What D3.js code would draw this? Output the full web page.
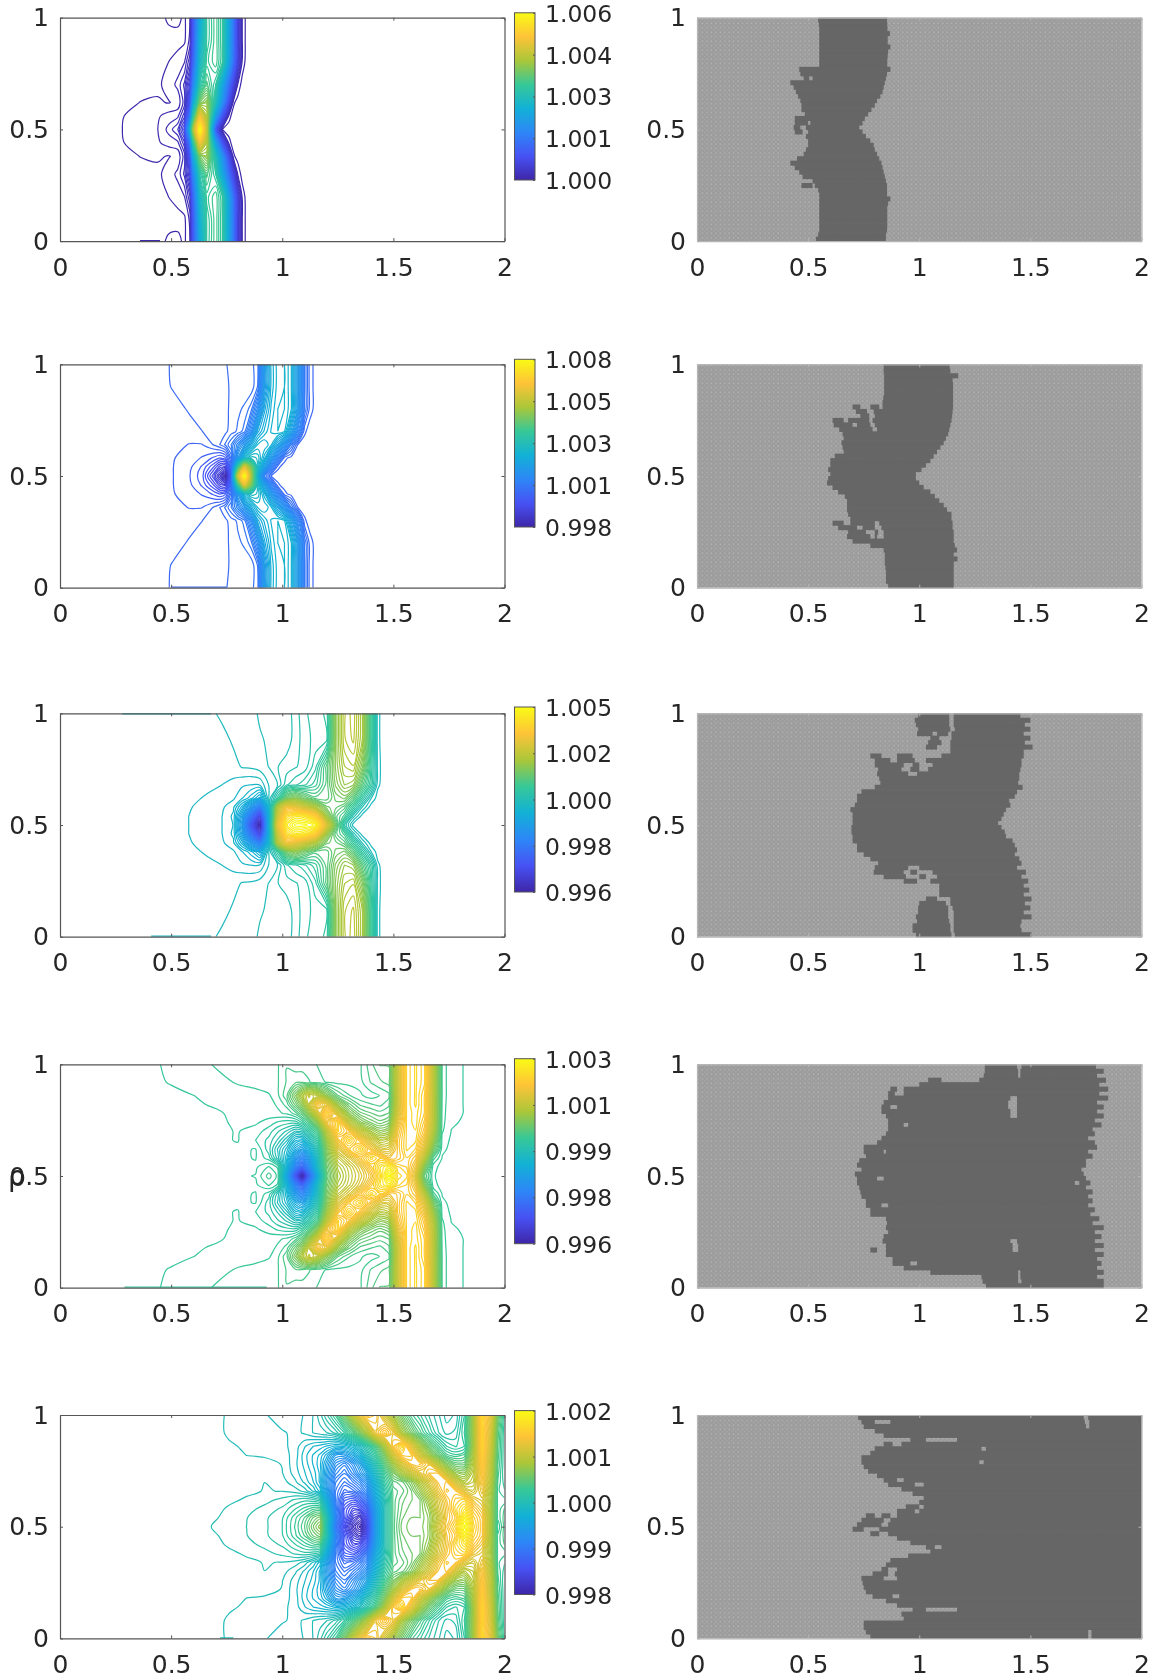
<!DOCTYPE html>
<html>
<head>
<meta charset="utf-8">
<script src="https://d3js.org/d3.v7.min.js"></script>
<style>
body { margin: 0; background: #fff; }
svg { display: block; filter: blur(0.45px); }
text { font-family: "DejaVu Sans", sans-serif; fill: #262626; }
</style>
</head>
<body>
<script>
// parula colormap used by the contours and colorbars
var parula = ["#3e26a8", "#4752f4", "#2d87f7", "#12b1d6", "#37c897", "#abc739", "#fec338", "#f9fb15"];

var xTicks = [0, 0.5, 1, 1.5, 2];
var yTicks = [0, 0.5, 1];

// colorbar labels, top to bottom
var cbLabels1 = ["1.006", "1.004", "1.003", "1.001", "1.000"];
var cbLabels2 = ["1.008", "1.005", "1.003", "1.001", "0.998"];
var cbLabels3 = ["1.005", "1.002", "1.000", "0.998", "0.996"];
var cbLabels4 = ["1.003", "1.001", "0.999", "0.998", "0.996"];
var cbLabels5 = ["1.002", "1.001", "1.000", "0.999", "0.998"];

// colour range of each panel, in thousandths above 1
var range1 = [0, 6];
var range2 = [-2, 8];
var range3 = [-4.5, 5];
var range4 = [-3.8, 3];
var range5 = [-2, 2];

// density field (thousandths above 1), rows from y=.5 up to y=1,
// the lower half mirrors it
var p1X = [0, .28, .36, .44, .49, .53, .56, .585, .60, .63, .66, .70, .73, .76, .78, .80, .82, .84, 2];
var p1Y = [.5, .56, .62, .7, .8, .9, 1];
var p1Z = [
  [0, .033, .07, .1, .19, .3, .6, 2.6, 4.2, 6.0, 4.4, 1.0, .03, 0, 0, 0, 0, 0, 0],
  [0, .03, .06, .09, .13, .15, .35, 1.5, 3.2, 5.0, 4.3, 2.2, .9, .06, 0, 0, 0, 0, 0],
  [0, 0, .035, .04, .03, .05, .2, .9, 2.4, 3.9, 4.1, 3.0, 1.9, .7, .05, 0, 0, 0, 0],
  [0, 0, 0, .02, .06, .12, .25, .6, 1.7, 3.2, 3.6, 3.3, 2.4, 1.3, .6, .09, 0, 0, 0],
  [0, 0, 0, 0, .035, .06, .1, .3, 1.2, 2.8, 3.4, 3.55, 3.3, 2.2, 1.3, .5, .08, 0, 0],
  [0, 0, 0, 0, 0, .01, .02, .12, 1.0, 2.6, 3.3, 3.55, 3.3, 2.3, 1.4, .5, .1, 0, 0],
  [0, 0, 0, 0, .05, .05, .02, .1, 1.0, 2.4, 3.3, 3.55, 3.3, 2.3, 1.4, .5, .1, 0, 0]
];

var p2X = [0, .45, .51, .58, .64, .69, .72, .745, .77, .80, .83, .86, .89, .92, .95, .98, 1.01, 1.04, 1.07, 1.10, 1.125, 1.14, 1.16, 2];
var p2Y = [.5, .54, .58, .64, .7, .8, .9, 1];
var p2Z = [
  [0, 0, -.055, -.15, -.35, -.9, -1.4, -2, -.2, 5.5, 8, 5, 2.2, .5, .04, 0, 0, 0, 0, 0, 0, 0, 0, 0],
  [0, 0, -.055, -.13, -.3, -.6, -.9, -1, 0, 3.5, 6, 4.5, 2.6, 1.6, .7, .08, 0, 0, 0, 0, 0, 0, 0, 0],
  [0, 0, -.05, -.1, -.18, -.3, -.4, -.3, .2, 1.4, 2.4, 2.8, 2.7, 2.2, 1.4, .7, .1, 0, 0, 0, 0, 0, 0, 0],
  [0, 0, -.02, -.06, -.06, .06, .17, .3, .5, .9, 1.4, 2, 2.4, 2.5, 2.3, 1.8, 1.2, .5, .05, 0, 0, 0, 0, 0],
  [0, 0, 0, 0, .055, .08, .1, .14, .22, .3, .45, 1.0, 1.9, 2.2, 2.4, 2.5, 2.4, 1.7, .9, .08, 0, 0, 0, 0],
  [0, 0, 0, .07, .09, .1, .1, .13, .2, .25, .3, .45, 1.0, 1.9, 2.3, 2.5, 2.5, 2.3, 1.5, .5, .1, .05, 0, 0],
  [0, 0, .07, .09, .09, .1, .1, .12, .2, .2, .2, .2, .4, 1.5, 2.2, 2.45, 2.5, 2.3, 1.5, .5, .1, .05, 0, 0],
  [0, 0, .08, .09, .09, .1, .1, .15, .22, .24, .24, .24, .35, 1.5, 2.2, 2.45, 2.5, 2.3, 1.5, .5, .1, .05, 0, 0]
];

var p3X = [0, .5, .58, .66, .73, .78, .82, .86, .9, .94, .98, 1.02, 1.06, 1.1, 1.15, 1.2, 1.24, 1.28, 1.32, 1.36, 1.4, 1.43, 1.46, 2];
var p3Y = [.5, .54, .58, .62, .68, .76, .88, 1];
var p3Z = [
  [0, 0, -.014, -.06, -.12, -.23, -1.2, -3, -4.5, -.5, 3.2, 4.6, 5, 5, 4.8, 3, 1.6, .5, .03, 0, 0, 0, 0, 0],
  [0, 0, -.014, -.05, -.12, -.25, -1.0, -2.3, -3.5, -.5, 2.8, 4.2, 4.5, 4.4, 3.8, 2.1, 1.3, 1.0, .35, .04, 0, 0, 0, 0],
  [0, 0, -.01, -.03, -.1, -.2, -.6, -1.3, -2.0, -.3, 2.4, 3.4, 3.2, 2.8, 2.3, 1.6, 1.5, 1.3, .8, .3, .03, 0, 0, 0],
  [0, 0, 0, -.02, -.05, -.1, -.22, -.4, -.7, .1, .7, 1.6, 1.9, 1.6, 1.3, 1.3, 1.6, 1.7, 1.3, .7, .2, .03, 0, 0],
  [0, 0, 0, 0, -.014, -.05, -.1, -.12, -.1, .1, .2, .5, .6, .7, .9, 1.3, 1.8, 2.1, 2.0, 1.3, .7, .12, .02, 0],
  [0, 0, 0, 0, 0, .05, .1, .11, .15, .2, .3, .35, .4, .45, .7, 1.3, 1.9, 2.3, 2.4, 1.8, .8, .15, 0, 0],
  [0, 0, 0, 0, .05, .11, .12, .16, .18, .22, .23, .25, .35, .47, .55, .6, 1.9, 2.5, 2.65, 2.2, .9, .13, 0, 0],
  [0, 0, 0, .05, .12, .13, .14, .15, .22, .22, .24, .25, .35, .5, .55, .65, 1.9, 2.5, 2.7, 2.2, .9, .13, 0, 0]
];

var p4X = [0, .4, .5, .6, .7, .8, .88, .94, .98, 1.02, 1.06, 1.09, 1.12, 1.16, 1.2, 1.25, 1.3, 1.35, 1.4, 1.44, 1.48, 1.52, 1.56, 1.6, 1.64, 1.68, 1.72, 1.76, 2];
var p4Y = [.5, .54, .58, .62, .66, .7, .74, .78, .82, .86, .92, 1];
var p4Z = [
  [0, 0, 0, 0, 0, 0, .02, .2, .07, -1.2, -2.8, -3.8, -2.5, -1, .4, 1, 1.3, 1.55, 1.9, 2.4, 3.0, 2.4, 2.3, 1.6, .4, .02, 0, 0, 0],
  [0, 0, 0, 0, 0, 0, 0, .1, 0, -.9, -2, -2.5, -1.8, -.6, .5, 1.1, 1.35, 1.65, 2.1, 2.5, 2.7, 2.3, 2.2, 1.8, .7, .03, 0, 0, 0],
  [0, 0, 0, 0, 0, 0, .02, -.1, -.4, -.8, -1.5, -1.9, -1.4, -.5, .6, 1.3, 1.6, 2.0, 2.4, 2.2, 1.9, 2.0, 2.2, 2.0, 1.2, .2, .01, 0, 0],
  [0, 0, 0, 0, 0, 0, .02, -.18, -.45, -.7, -1.1, -1.3, -.95, -.3, .7, 1.6, 2.1, 2.4, 1.9, 1.6, 1.6, 2.0, 2.3, 2.2, 1.6, .6, .03, 0, 0],
  [0, 0, 0, 0, 0, .02, -.06, -.16, -.3, -.5, -.8, -.85, -.55, -.05, .9, 1.9, 2.4, 2.0, 1.5, 1.2, 1.3, 2.0, 2.3, 2.3, 1.8, .9, .05, .005, 0],
  [0, 0, 0, 0, 0, .02, -.02, -.1, -.2, -.3, -.45, -.4, -.15, .25, 1.2, 2.3, 2.0, 1.4, 1.0, .8, .9, 1.9, 2.3, 2.35, 2.0, 1.1, .1, .015, 0],
  [0, 0, 0, 0, .01, .02, .03, -.02, -.07, -.1, -.1, .02, .25, .8, 1.8, 2.3, 1.3, .8, .6, .5, .6, 1.7, 2.3, 2.4, 2.1, 1.2, .12, .018, 0],
  [0, 0, 0, 0, .01, .025, .04, .06, .08, .1, .2, .4, .8, 1.5, 2.3, 1.5, .8, .5, .4, .35, .4, 1.5, 2.3, 2.4, 2.2, 1.2, .13, .02, 0],
  [0, 0, 0, .01, .02, .03, .05, .07, .1, .2, .5, .8, 1.3, 2.0, 1.7, .9, .5, .3, .25, .22, .3, 1.4, 2.3, 2.45, 2.2, 1.2, .14, .02, 0],
  [0, 0, 0, .015, .03, .05, .06, .08, .15, .3, .7, 1.1, 1.4, 1.2, .8, .4, .25, .18, .13, .17, .22, 1.4, 2.3, 2.45, 2.2, 1.2, .15, .02, 0],
  [0, 0, .02, .04, .06, .1, .12, .15, .16, .25, .3, .3, .25, .2, .16, .14, .14, .14, .25, .3, .35, 1.4, 2.3, 2.45, 2.3, 1.2, .15, .02, 0],
  [0, 0, .03, .05, .1, .12, .14, .15, .16, .24, .2, .2, .2, .16, .14, .14, .14, .15, .3, .4, .4, 1.4, 2.3, 2.45, 2.3, 1.2, .15, .02, 0]
];

var p5X = [0, .68, .76, .84, .92, 1.0, 1.06, 1.1, 1.14, 1.17, 1.2, 1.24, 1.28, 1.32, 1.35, 1.38, 1.42, 1.46, 1.5, 1.54, 1.58, 1.62, 1.66, 1.7, 1.74, 1.78, 1.82, 1.86, 1.9, 1.94, 1.97, 2];
var p5Y = [.5, .54, .58, .62, .66, .7, .74, .78, .82, .86, .92, 1];
var p5Z = [
  [0, .022, .05, .067, .1, .155, .3, .42, .6, .72, 0, -1, -1.5, -1.85, -2, -1.6, -.6, 0, .4, .58, .62, .62, .7, 1.1, 1.4, 1.6, 2, 1.6, 1.4, .8, .25, .4],
  [0, .01, .04, .065, .1, .15, .28, .38, .52, .58, .05, -.9, -1.4, -1.7, -1.8, -1.5, -.6, 0, .4, .55, .6, .6, .7, 1.0, 1.35, 1.5, 1.9, 1.55, 1.4, .8, .3, .4],
  [0, 0, .03, .05, .08, .12, .2, .26, .32, .32, -.15, -.95, -1.4, -1.55, -1.5, -1.3, -.55, 0, .4, .52, .58, .6, .75, 1.1, 1.35, 1.6, 1.75, 1.45, 1.3, .8, .3, .38],
  [0, 0, .01, .03, .05, .08, .12, .14, .12, .08, -.35, -1.0, -1.3, -1.35, -1.25, -1.05, -.45, .03, .4, .5, .55, .6, .85, 1.15, 1.4, 1.55, 1.6, 1.3, 1.2, .8, .3, .3],
  [0, 0, 0, .01, .025, .02, 0, -.04, -.12, -.22, -.55, -1, -1.15, -1.1, -1, -.85, -.35, .1, .4, .45, .55, .75, 1.0, 1.3, 1.5, 1.45, 1.2, 1.1, 1.3, .85, .3, .25],
  [0, 0, 0, 0, .022, 0, -.06, -.12, -.2, -.3, -.6, -.95, -1.05, -.95, -.85, -.7, -.25, .2, .45, .5, .65, .9, 1.15, 1.4, 1.45, 1.1, .9, 1.0, 1.4, .9, .33, .22],
  [0, 0, 0, 0, .015, -.02, -.09, -.15, -.22, -.3, -.55, -.85, -.95, -.8, -.65, -.5, -.1, .3, .6, .85, 1.05, 1.25, 1.4, 1.4, 1.0, .75, .7, .95, 1.45, .95, .35, .2],
  [0, 0, 0, 0, 0, -.025, -.1, -.17, -.25, -.32, -.5, -.75, -.85, -.7, -.55, -.3, .05, .45, .8, 1.15, 1.4, 1.45, 1.3, .95, .65, .5, .5, .9, 1.5, .95, .38, .2],
  [0, 0, 0, -.023, -.03, -.04, -.09, -.18, -.25, -.3, -.4, -.6, -.6, -.45, -.3, -.05, .25, .6, 1.1, 1.5, 1.5, 1.1, .8, .55, .35, .3, .35, .85, 1.55, 1.0, .4, .2],
  [0, 0, -.015, -.03, -.03, -.05, -.09, -.15, -.2, -.22, -.25, -.3, -.28, -.2, -.08, .1, .4, .85, 1.4, 1.65, 1.25, .85, .55, .35, .2, .15, .2, .8, 1.6, 1.05, .42, .2],
  [0, 0, -.03, -.04, -.05, -.06, -.08, -.06, -.02, 0, .02, .08, .2, .4, .6, .85, 1.3, 1.5, 1.3, .85, .6, .4, .25, .12, .05, .08, .25, .8, 1.6, 1.1, .45, .2],
  [0, 0, -.03, -.04, -.06, -.1, -.1, -.06, -.02, .05, .15, .3, .6, 1.0, 1.3, 1.5, 1.4, 1.1, .8, .55, .35, .25, .15, .08, 0, .03, .2, .8, 1.65, 1.2, .55, .25]
];

// short flat traces that run along the domain edge: [x0, x1, y]
var edge1 = [[.36, .45, 0]];
var edge2 = [[.5, .75, 0]];
var edge3 = [[.41, .68, 0], [.28, .68, 1]];
var edge4 = [[.29, .93, 0]];
var edge5 = [[.72, .78, 0]];

// dark cells of the right hand plots: x intervals per row, rows from y=.99 down to y=.01 in steps of .02
var dark1 = [
  [.545, .855], [.548, .856], [.55, .857], [.55, .868], [.55, .858], [.55, .858], [.55, .87], [.55, .86], [.55, .858], [.55, .856],
  [.55, .856], [.46, .87], [.465, .855], [.48, .505, .52, .85], [.42, .845], [.435, .84], [.445, .835], [.455, .825], [.465, .81], [.47, .80],
  [.47, .785], [.485, .77], [.44, .755], [.44, .50, .51, .745], [.435, .465, .49, .73], [.44, .475, .50, .745], [.49, .76], [.50, .78], [.50, .795], [.49, .80],
  [.48, .81], [.45, .82], [.42, .83], [.44, .835], [.46, .84], [.475, .845], [.52, .85], [.47, .52, .53, .855], [.545, .855], [.55, .855],
  [.55, .87], [.55, .86], [.55, .856], [.55, .856], [.55, .856], [.55, .856], [.55, .856], [.55, .855], [.545, .85], [.535, .85]
];
var dark2 = [
  [.84, 1.137], [.84, 1.14], [.842, 1.175], [.842, 1.15], [.842, 1.152], [.842, 1.152], [.842, 1.152], [.838, 1.152], [.835, 1.152],
  [.70, .735, .78, .82, .835, 1.152], [.715, .765, .795, 1.15], [.735, .775, .80, 1.148], [.61, .66, .68, .775, .79, 1.145], [.615, .70, .72, .78, .80, 1.14], [.64, .79, .81, 1.135],
  [.655, 1.13], [.66, 1.12], [.65, 1.11], [.655, 1.095], [.66, 1.08], [.62, 1.065], [.60, 1.05], [.60, 1.03], [.59, 1.01], [.60, .985],
  [.59, .985], [.585, 1.0], [.61, 1.02], [.635, 1.05], [.665, 1.07], [.675, 1.09], [.675, 1.11], [.675, 1.125], [.68, 1.145], [.69, 1.145],
  [.61, .66, .69, .80, .82, 1.15], [.635, .72, .745, .80, .83, 1.15], [.68, .76, .80, .815, .84, 1.155], [.675, .78, .80, .81, .84, 1.155], [.70, 1.155], [.78, 1.16], [.84, 1.17],
  [.845, 1.155], [.845, 1.172], [.845, 1.155], [.848, 1.155], [.85, 1.155], [.85, 1.155], [.85, 1.155], [.86, 1.155]
];
var dark3 = [
  [.995, 1.135, 1.155, 1.455], [.98, 1.135, 1.155, 1.50], [.985, 1.135, 1.155, 1.475], [.995, 1.14, 1.16, 1.50], [.99, 1.06, 1.08, 1.13, 1.145, 1.47],
  [1.05, 1.09, 1.145, 1.50], [1.04, 1.10, 1.14, 1.475], [1.03, 1.08, 1.14, 1.51], [1.14, 1.47], [.78, .83, .90, .97, 1.10, 1.47],
  [.80, .87, .90, .98, 1.03, 1.46], [.80, .93, .97, 1.0, 1.06, 1.46], [.815, .92, .96, 1.0, 1.04, 1.455], [.81, .95, .99, 1.45], [.82, 1.45],
  [.825, 1.445], [.80, 1.465], [.74, 1.44], [.72, 1.43], [.72, 1.405], [.71, 1.41], [.69, 1.39], [.70, 1.38], [.70, 1.37], [.70, 1.355],
  [.695, 1.37], [.695, 1.385], [.70, 1.39], [.70, 1.42], [.72, 1.43], [.72, 1.44], [.75, 1.43], [.78, 1.45], [.815, 1.46], [.80, .95, 1.0, 1.44],
  [.795, .93, .96, .99, 1.06, 1.48], [.84, .94, 1.0, 1.03, 1.08, 1.46], [.93, .99, 1.05, 1.49], [1.09, 1.47], [1.09, 1.495], [1.09, 1.47], [1.03, 1.08, 1.14, 1.505],
  [1.0, 1.12, 1.14, 1.475], [.995, 1.13, 1.15, 1.50], [.995, 1.13, 1.155, 1.47], [.985, 1.13, 1.155, 1.505], [.99, 1.135, 1.155, 1.46], [.97, 1.14, 1.155, 1.455], [.97, 1.14, 1.155, 1.46], [.985, 1.145, 1.16, 1.505]
];
var dark4 = [
  [1.295, 1.44, 1.46, 1.795], [1.295, 1.445, 1.455, 1.83], [1.29, 1.445, 1.455, 1.80], [1.04, 1.10, 1.27, 1.84], [1.0, 1.81], [.87, .90, .93, 1.85], [.86, .89, .93, 1.81],
  [.86, 1.41, 1.44, 1.85], [.84, 1.40, 1.44, 1.80], [.83, .87, .90, 1.40, 1.44, 1.83], [.83, 1.41, 1.44, 1.80], [.85, 1.41, 1.44, 1.83], [.86, 1.79], [.86, .93, .95, 1.82],
  [.86, 1.78], [.85, 1.79], [.83, 1.76], [.81, 1.79], [.75, 1.80], [.75, .84, .85, 1.76], [.76, 1.78], [.73, 1.75], [.72, 1.75], [.74, 1.73], [.71, 1.74],
  [.72, .81, .84, 1.75], [.72, 1.70, 1.72, 1.77], [.73, 1.75], [.735, 1.78], [.74, 1.76], [.76, 1.78], [.76, .83, .86, 1.76], [.78, 1.79], [.78, 1.77], [.85, 1.81],
  [.855, 1.78], [.85, 1.83], [.86, 1.79], [.84, 1.82], [.835, 1.41, 1.44, 1.79], [.85, 1.42, 1.445, 1.83], [.78, .81, .85, 1.42, 1.445, 1.79], [.85, 1.83], [.88, 1.80],
  [.88, .96, .99, 1.82], [.93, 1.80], [1.05, 1.445, 1.455, 1.83], [1.28, 1.445, 1.455, 1.80], [1.285, 1.445, 1.46, 1.83], [1.30, 1.83]
];
var dark5 = [
  [.725, 1.74, 1.76, 2], [.74, .80, .87, 1.745, 1.765, 2], [.75, 1.75, 1.765, 2], [.80, 2], [.84, 2], [.96, 1.03, 1.17, 2], [.84, .88, .92, 2], [.80, 1.28, 1.30, 2], [.78, 2], [.74, 2],
  [.74, 1.27, 1.29, 2], [.75, 2], [.77, 2], [.81, 2], [.84, .90, .93, 2], [.86, .98, 1.02, 2], [.92, 2], [.97, 2], [1.02, 2], [1.0, 2],
  [.94, 1.0, 1.02, 2], [.90, .98, 1.0, 2], [.76, .80, .83, .87, .90, 2], [.74, .84, .87, 2], [.72, .83, .86, 2], [.70, .75, .82, 2], [.78, .82, .86, 2], [.90, 2], [.96, 2], [1.03, 1.07, 1.10, 2],
  [1.05, 2], [.95, 2], [.87, 2], [.85, 2], [.83, .86, .90, 2], [.79, .86, .89, 2], [.74, .84, .90, 2], [.745, 2], [.75, 2], [.76, 2],
  [.79, .88, .91, 2], [.85, 2], [.90, 2], [.97, 1.03, 1.17, 2], [.92, 2], [.93, 2], [.75, 2], [.75, 2], [.76, 1.76, 1.775, 2], [.78, 1.76, 1.775, 2]
];

var width = 1155;
var height = 1677;
var plotW = 444.5;
var plotH = 223.4;
var leftX = 60;
var rightX = 697;
var nLevels = 90;

var tops = [17.7, 364.3, 713.3, 1064.3, 1415];
// colorbar top and bottom of every row
var cbarTops = [12.8, 359.3, 707, 1058.7, 1410.6];
var cbarBottoms = [180, 527, 892, 1243.7, 1594.5];

var panels = [
  {x: p1X, y: p1Y, z: p1Z, range: range1, labels: cbLabels1, edge: edge1, dark: dark1},
  {x: p2X, y: p2Y, z: p2Z, range: range2, labels: cbLabels2, edge: edge2, dark: dark2},
  {x: p3X, y: p3Y, z: p3Z, range: range3, labels: cbLabels3, edge: edge3, dark: dark3},
  {x: p4X, y: p4Y, z: p4Z, range: range4, labels: cbLabels4, edge: edge4, dark: dark4},
  {x: p5X, y: p5Y, z: p5Z, range: range5, labels: cbLabels5, edge: edge5, dark: dark5}
];

var svg = d3.select("body").append("svg")
  .attr("width", width)
  .attr("height", height);

var defs = svg.append("defs");

// colorbar gradient
var grad = defs.append("linearGradient")
  .attr("id", "parula")
  .attr("x1", 0).attr("y1", 1).attr("x2", 0).attr("y2", 0);
grad.selectAll("stop")
  .data(parula)
  .enter().append("stop")
  .attr("offset", function(d, i) { return i / (parula.length - 1); })
  .attr("stop-color", function(d) { return d; });

// fine mesh of the light cells
var mesh = defs.append("pattern")
  .attr("id", "mesh")
  .attr("patternUnits", "userSpaceOnUse")
  .attr("width", 4.45)
  .attr("height", 4.47);
mesh.append("rect").attr("width", 4.45).attr("height", 4.47).attr("fill", "#9c9c9c");
mesh.append("circle").attr("cx", 1.1).attr("cy", 1.1).attr("r", 0.8).attr("fill", "#b4b4b4");
mesh.append("circle").attr("cx", 3.3).attr("cy", 3.3).attr("r", 0.8).attr("fill", "#a8a8a8");

var x = d3.scaleLinear().domain([0, 2]).range([0, plotW]);
var y = d3.scaleLinear().domain([0, 1]).range([plotH, 0]);

function tickFmt(d) { return String(d); }

function drawAxes(g, color) {
  g.append("g")
    .attr("transform", "translate(0," + plotH + ")")
    .call(d3.axisBottom(x).tickValues(xTicks).tickFormat(tickFmt).tickSizeInner(-3).tickSizeOuter(0).tickPadding(17));
  g.append("g")
    .call(d3.axisLeft(y).tickValues(yTicks).tickFormat(tickFmt).tickSizeInner(-3).tickSizeOuter(0).tickPadding(11));
  g.append("g")
    .call(d3.axisTop(x).tickValues(xTicks).tickFormat("").tickSizeInner(-3).tickSizeOuter(0));
  g.append("g")
    .attr("transform", "translate(" + plotW + ",0)")
    .call(d3.axisRight(y).tickValues(yTicks).tickFormat("").tickSizeInner(-3).tickSizeOuter(0));
  g.selectAll(".domain").attr("stroke", color).attr("stroke-width", 1.2);
  g.selectAll(".tick line").attr("stroke", color);
  g.selectAll(".tick text").style("font-size", "25px").attr("fill", "#262626");
}

// cell index from d3.contours -> data coordinate (cell centres sit at i + .5)
function indexScale(vals) {
  var dom = [0], rng = [vals[0]];
  vals.forEach(function(v, i) { dom.push(i + 0.5); rng.push(v); });
  dom.push(vals.length);
  rng.push(vals[vals.length - 1]);
  return d3.scaleLinear().domain(dom).range(rng);
}

function drawContours(g, p, idx) {
  // mirror the upper half into the lower one
  var lower = p.y.slice(1).map(function(v) { return 1 - v; }).reverse();
  var ys = lower.concat(p.y);
  var rows = p.z.slice(1).reverse().concat(p.z);
  var values = [];
  rows.forEach(function(r) { r.forEach(function(v) { values.push(v); }); });

  var dx = p.x.length, dy = ys.length;
  var step = (p.range[1] - p.range[0]) / nLevels;
  var levels = d3.range(p.range[0] + step / 2, p.range[1], step);
  var color = d3.scaleSequential(d3.piecewise(d3.interpolateRgb, parula)).domain(p.range);

  var cx = indexScale(p.x), cy = indexScale(ys);
  var conts = d3.contours().size([dx, dy]).thresholds(levels)(values);

  var line = d3.line().curve(d3.curveCatmullRom.alpha(0.5));
  var closed = d3.line().curve(d3.curveCatmullRomClosed.alpha(0.5));

  var clip = "clip" + idx;
  defs.append("clipPath").attr("id", clip).append("rect").attr("width", plotW).attr("height", plotH);
  var layer = g.append("g").attr("clip-path", "url(#" + clip + ")");

  function onEdge(q) {
    return q[0] === p.x[0] || q[0] === p.x[dx - 1] || q[1] === 0 || q[1] === 1;
  }

  conts.forEach(function(c) {
    var d = "";
    c.coordinates.forEach(function(poly) {
      poly.forEach(function(ring) {
        var pts = ring.map(function(q) { return [cx(q[0]), cy(q[1])]; });
        var touched = pts.some(onEdge);
        if (!touched) {
          d += closed(pts.slice(0, -1).map(function(q) { return [x(q[0]), y(q[1])]; }));
          return;
        }
        // the ring closes along the domain edge, start at an edge point and leave those pieces out
        var start = pts.findIndex(onEdge);
        var loop = pts.slice(start, -1).concat(pts.slice(0, start + 1));
        var cur = [loop[0]];
        loop.slice(1).forEach(function(q) {
          cur.push(q);
          if (onEdge(q)) {
            if (cur.length > 2) d += line(cur.map(function(s) { return [x(s[0]), y(s[1])]; }));
            cur = [q];
          }
        });
      });
    });
    if (d) {
      layer.append("path")
        .attr("d", d)
        .attr("fill", "none")
        .attr("stroke", color(c.value))
        .attr("stroke-width", 1.2);
    }
  });

  // flat traces along the edge
  layer.selectAll("line.edge")
    .data(p.edge)
    .enter().append("line")
    .attr("class", "edge")
    .attr("x1", function(d) { return x(d[0]); })
    .attr("x2", function(d) { return x(d[1]); })
    .attr("y1", function(d) { return y(d[2]); })
    .attr("y2", function(d) { return y(d[2]); })
    .attr("stroke", color(levels[Math.floor(-p.range[0] / step)]))
    .attr("stroke-width", 2.2);
}

function drawColorbar(p, idx) {
  var t = cbarTops[idx], b = cbarBottoms[idx];
  var g = svg.append("g").attr("transform", "translate(514.5,0)");
  g.append("rect")
    .attr("y", t)
    .attr("width", 20.5)
    .attr("height", b - t)
    .attr("fill", "url(#parula)")
    .attr("stroke", "#555")
    .attr("stroke-width", 1);
  var s = d3.scalePoint().domain(p.labels).range([t, b]);
  var ax = g.append("g").attr("transform", "translate(20.5,0)")
    .call(d3.axisRight(s).tickSizeInner(-2).tickSizeOuter(0).tickPadding(10));
  ax.select(".domain").remove();
  ax.selectAll(".tick line").attr("stroke", "#555");
  ax.selectAll(".tick text").style("font-size", "23.5px").attr("y", 1).attr("fill", "#262626");
}

function drawCells(g, p) {
  g.append("rect")
    .attr("width", plotW)
    .attr("height", plotH)
    .attr("fill", "url(#mesh)");
  var band = d3.scaleBand().domain(d3.range(p.dark.length)).range([0, plotH]);
  var spans = [];
  p.dark.forEach(function(row, i) {
    for (var k = 0; k < row.length; k += 2) spans.push({row: i, x0: row[k], x1: row[k + 1]});
  });
  g.selectAll("rect.cell")
    .data(spans)
    .enter().append("rect")
    .attr("class", "cell")
    .attr("x", function(d) { return x(d.x0); })
    .attr("y", function(d) { return band(d.row); })
    .attr("width", function(d) { return x(d.x1) - x(d.x0); })
    .attr("height", band.bandwidth() + 0.6)
    .attr("fill", "#666666");
}

panels.forEach(function(p, i) {
  var left = svg.append("g").attr("transform", "translate(" + leftX + "," + tops[i] + ")");
  drawContours(left, p, i);
  drawAxes(left, "#555");
  drawColorbar(p, i);

  var right = svg.append("g").attr("transform", "translate(" + rightX + "," + tops[i] + ")");
  drawCells(right, p);
  drawAxes(right, "#b5b5b5");
});

// stray y label that sits on the 0.5 tick of the fourth row
svg.append("text")
  .attr("x", 8)
  .attr("y", 1186)
  .style("font-size", "28px")
  .text("ρ");
</script>
</body>
</html>
